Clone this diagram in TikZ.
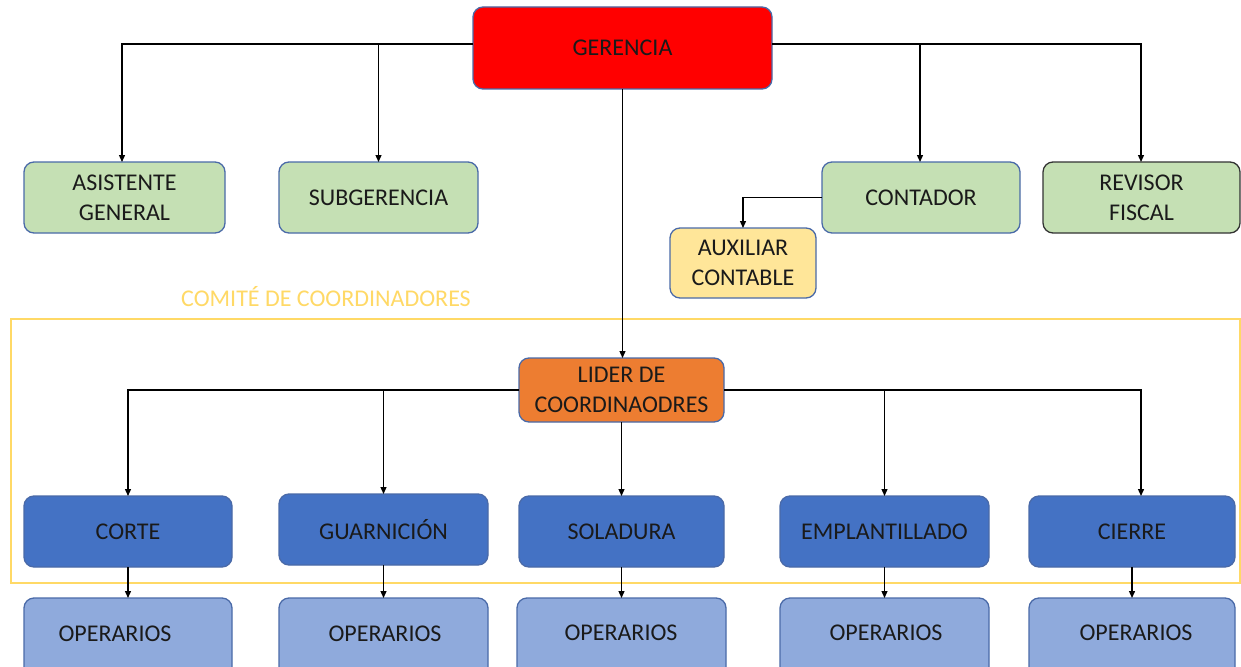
\documentclass[tikz,border=0pt]{standalone}
\usepackage{fontspec}
\setmainfont{Carlito}
\usetikzlibrary{arrows.meta}
\definecolor{bord}{HTML}{4A6AA8}
\definecolor{gfill}{HTML}{C5E0B4}
\definecolor{yfill}{HTML}{FFE699}
\definecolor{ofill}{HTML}{ED7D31}
\definecolor{bfill}{HTML}{4472C4}
\definecolor{lbfill}{HTML}{8FAADC}
\definecolor{frame}{HTML}{FFD966}
\definecolor{txt}{HTML}{1A1A1A}
\tikzset{
  box/.style={draw=bord, line width=1.3pt, rounded corners=10pt, inner sep=0pt, outer sep=0pt,
    align=center, text=txt, font=\fontsize{24}{30}\selectfont},
  optext/.style={text=txt, font=\fontsize{24}{30}\selectfont, inner sep=0pt},
  arr/.style={draw=black, line width=1.3pt, -{Triangle[length=7pt,width=6pt]}},
}
\begin{document}
\begin{tikzpicture}[x=1pt,y=-1pt]
\useasboundingbox (0,0) rectangle (1241,666);
\clip (0,0) rectangle (1241,666);
\fill[white] (0,0) rectangle (1241,666);

% frame
\draw[frame, line width=1.3pt] (11,319) rectangle (1240,583);
\node[text=frame, font=\fontsize{24}{26}\selectfont, inner sep=0pt] (comite) at (326,297) {COMITÉ DE COORDINADORES};

% top level
\node[box, fill=red, minimum width=299pt, minimum height=82pt] (ger) at (622.5,48) {GERENCIA};
\node[box, fill=gfill, minimum width=201pt, minimum height=71pt] (asis) at (124.5,197.5) {ASISTENTE\\GENERAL};
\node[box, fill=gfill, minimum width=199pt, minimum height=71pt] (sub) at (378.5,197.5) {SUBGERENCIA};
\node[box, fill=gfill, minimum width=198pt, minimum height=71pt] (cont) at (921,197.5) {CONTADOR};
\node[box, fill=gfill, draw=black!80, minimum width=197pt, minimum height=71pt] (rev) at (1141.5,197.5) {REVISOR\\FISCAL};
\node[box, fill=yfill, minimum width=146pt, minimum height=70pt] (aux) at (743,263) {AUXILIAR\\CONTABLE};

% leader
\node[box, fill=ofill, minimum width=205pt, minimum height=64pt] (lid) at (621.5,390) {LIDER DE\\COORDINAODRES};

% departments
\node[box, fill=bfill, minimum width=208pt, minimum height=71pt] (cor) at (128,531.5) {CORTE};
\node[box, fill=bfill, minimum width=209pt, minimum height=71pt] (gua) at (383.5,529.5) {GUARNICIÓN};
\node[box, fill=bfill, minimum width=205pt, minimum height=71pt] (sol) at (621.5,531.5) {SOLADURA};
\node[box, fill=bfill, minimum width=209pt, minimum height=71pt] (emp) at (884.5,531.5) {EMPLANTILLADO};
\node[box, fill=bfill, minimum width=206pt, minimum height=71pt] (cie) at (1132,531.5) {CIERRE};

% operarios (cut by the lower edge)
\node[box, fill=lbfill, minimum width=208pt, minimum height=80pt] (op1) at (128,638) {};
\node[box, fill=lbfill, minimum width=209pt, minimum height=80pt] (op2) at (383.5,638) {};
\node[box, fill=lbfill, minimum width=209pt, minimum height=80pt] (op3) at (621.5,638) {};
\node[box, fill=lbfill, minimum width=209pt, minimum height=80pt] (op4) at (884.5,638) {};
\node[box, fill=lbfill, minimum width=206pt, minimum height=80pt] (op5) at (1132,638) {};
\node[optext] (t1) at (115,634) {OPERARIOS};
\node[optext] (t2) at (385,634) {OPERARIOS};
\node[optext] (t3) at (621,633) {OPERARIOS};
\node[optext] (t4) at (886,633) {OPERARIOS};
\node[optext] (t5) at (1136,633) {OPERARIOS};

% connectors from GERENCIA
\draw[arr] ([yshift=4pt]ger.west) -| ([xshift=-2.5pt]asis.north);
\draw[arr] ([yshift=4pt]ger.west) -| (sub.north);
\draw[arr] ([yshift=4pt]ger.east) -| ([xshift=-0.5pt]rev.north);
\draw[arr] ([yshift=4pt]ger.east) -| ([xshift=-1pt]cont.north);
\draw[arr] (ger.south) -- (ger.south |- lid.north);
\draw[arr] (cont.west) -| (aux.north);

% connectors from LIDER
\draw[arr] (lid.west) -| (cor.north);
\draw[arr] (lid.west) -| (gua.north);
\draw[arr] (lid.east) -| (emp.north);
\draw[arr] (lid.east) -| ([xshift=9pt]cie.north);
\draw[arr] (lid.south) -- (sol.north);

% departments to operarios
\draw[arr] (cor.south) -- (op1.north);
\draw[arr] (gua.south) -- (op2.north);
\draw[arr] (sol.south) -- (op3.north);
\draw[arr] (emp.south) -- (op4.north);
\draw[arr] (cie.south) -- (op5.north);
\end{tikzpicture}
\end{document}
